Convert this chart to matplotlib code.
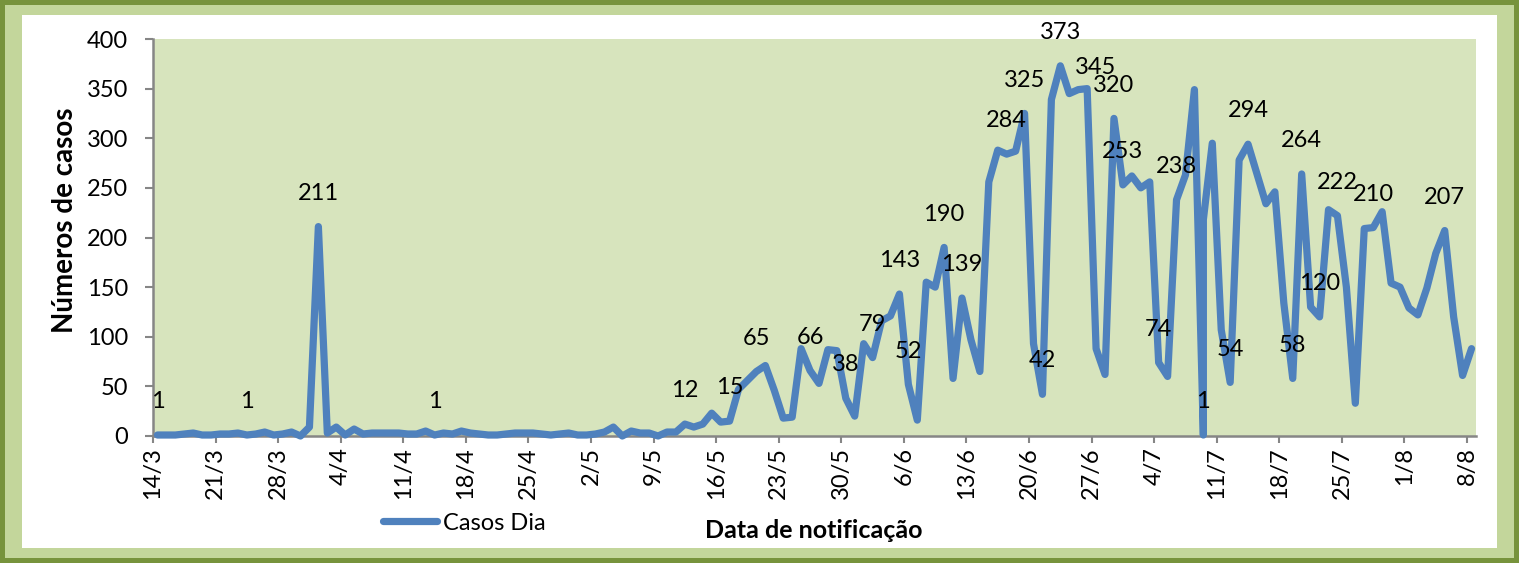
import numpy as np
import pandas as pd
import matplotlib
matplotlib.use('Agg')
import matplotlib.pyplot as plt
from matplotlib.patches import Rectangle

plt.rcParams['font.family'] = ['Lato', 'DejaVu Sans']

# Casos por dia, data de notificacao de 14/3 a 8/8 (o dia 9/7 tem duas linhas na planilha)
casos = [1, 1, 1, 2, 3, 1, 1, 2, 2, 3,
         1, 2, 4, 1, 2, 4, 0, 9, 211, 3,
         9, 1, 7, 2, 3, 3, 3, 3, 2, 2,
         5, 1, 3, 2, 5, 3, 2, 1, 1, 2,
         3, 3, 3, 2, 1, 2, 3, 1, 1, 2,
         4, 9, 0, 5, 3, 3, 0, 4, 4, 12,
         9, 12, 23, 14, 15, 47, 56, 65, 71, 46,
         18, 19, 88, 66, 53, 87, 86, 38, 20, 93,
         79, 116, 121, 143, 52, 16, 155, 150, 190, 58,
         139, 97, 65, 256, 288, 284, 287, 325, 93, 42,
         339, 373, 345, 349, 350, 88, 62, 320, 253, 262,
         250, 256, 74, 60, 238, 263, 349, 1, 218, 295,
         107, 54, 278, 294, 264, 234, 246, 134, 58, 264,
         130, 120, 228, 222, 150, 33, 209, 210, 226, 154,
         150, 129, 122, 149, 184, 207, 120, 61, 88]

inicio = '2020-03-14'
fim = '2020-08-08'
data_repetida = '2020-07-09'

# datas com rotulo de valor
rotulos = ['14/3', '24/3', '1/4', '14/4', '12/5', '17/5', '20/5', '26/5', '30/5',
           '2/6', '5/6', '6/6', '10/6', '12/6', '17/6', '19/6', '21/6', '23/6',
           '24/6', '29/6', '30/6', '4/7', '6/7', '9/7', '12/7', '14/7', '19/7',
           '20/7', '22/7', '24/7', '28/7', '5/8']

datas = list(pd.date_range(inicio, fim))
k = datas.index(pd.Timestamp(data_repetida))
datas.insert(k + 1, datas[k])
datas = pd.DatetimeIndex(datas)
# pontos no meio do dia (eixo de datas "entre marcas")
xs = datas + pd.Timedelta(hours=12)

W, H = 1519, 563
fig = plt.figure(figsize=(W / 100, H / 100), dpi=100)
fig.patch.set_facecolor('#77933C')
fig.patches.append(Rectangle((5 / W, 5 / H), 1 - 10 / W, 1 - 10 / H,
                             transform=fig.transFigure, facecolor='#C3D69B',
                             edgecolor='none', zorder=-2))
fig.patches.append(Rectangle((22 / W, 15 / H), 1 - 44 / W, 1 - 30 / H,
                             transform=fig.transFigure, facecolor='white',
                             edgecolor='none', zorder=-1))

ax = fig.add_axes([153 / W, 1 - 436 / H, (1476 - 153) / W, (436 - 39) / H])
ax.set_zorder(1)
ax.set_facecolor('#D7E4BD')

linha, = ax.plot(xs, casos, color='#4F81BD', lw=5.2, solid_joinstyle='round',
                 solid_capstyle='round', zorder=3, clip_on=False, label='Casos Dia')

fs = 17
for r in rotulos:
    d, m = r.split('/')
    t = pd.Timestamp(2020, int(m), int(d))
    i = list(datas).index(t)
    v = casos[i]
    off = (0, 24)
    if r == '24/6':
        off = (19, 19)
    ax.annotate(str(v), (xs[i], v), xytext=off, textcoords='offset points',
                ha='center', va='center', fontsize=fs, color='black', zorder=4)

ax.set_xlim(pd.Timestamp(inicio), pd.Timestamp(fim) + pd.Timedelta(days=1))
ax.set_ylim(0, 400)
ax.set_yticks(np.arange(0, 401, 50))

ticks = pd.date_range(inicio, fim, freq='7D')
ax.set_xticks(ticks)
ax.set_xticklabels([f'{t.day}/{t.month}' for t in ticks], rotation=90, fontsize=fs)
ax.tick_params(axis='y', labelsize=fs, length=6, width=1.5, color='#868686', pad=12)
ax.tick_params(axis='x', length=5, width=1.5, color='#868686', pad=3)

for s in ['top', 'right']:
    ax.spines[s].set_visible(False)
for s in ['left', 'bottom']:
    ax.spines[s].set_color('#868686')
    ax.spines[s].set_linewidth(1.8)

fig.text(65 / W, 1 - 220 / H, 'Números de casos', rotation=90, ha='center',
         va='center', fontsize=20, fontweight='bold')
fig.text(814 / W, 1 - 530 / H, 'Data de notificação', ha='center', va='center',
         fontsize=18, fontweight='bold')
ax.legend(handles=[linha], loc='center left', bbox_to_anchor=(383 / W, 1 - 523 / H),
          bbox_transform=fig.transFigure, frameon=False, fontsize=fs,
          handlelength=2.3, handletextpad=0.25, borderpad=0, borderaxespad=0)

fig.savefig('out.png', dpi=100, facecolor=fig.get_facecolor())
